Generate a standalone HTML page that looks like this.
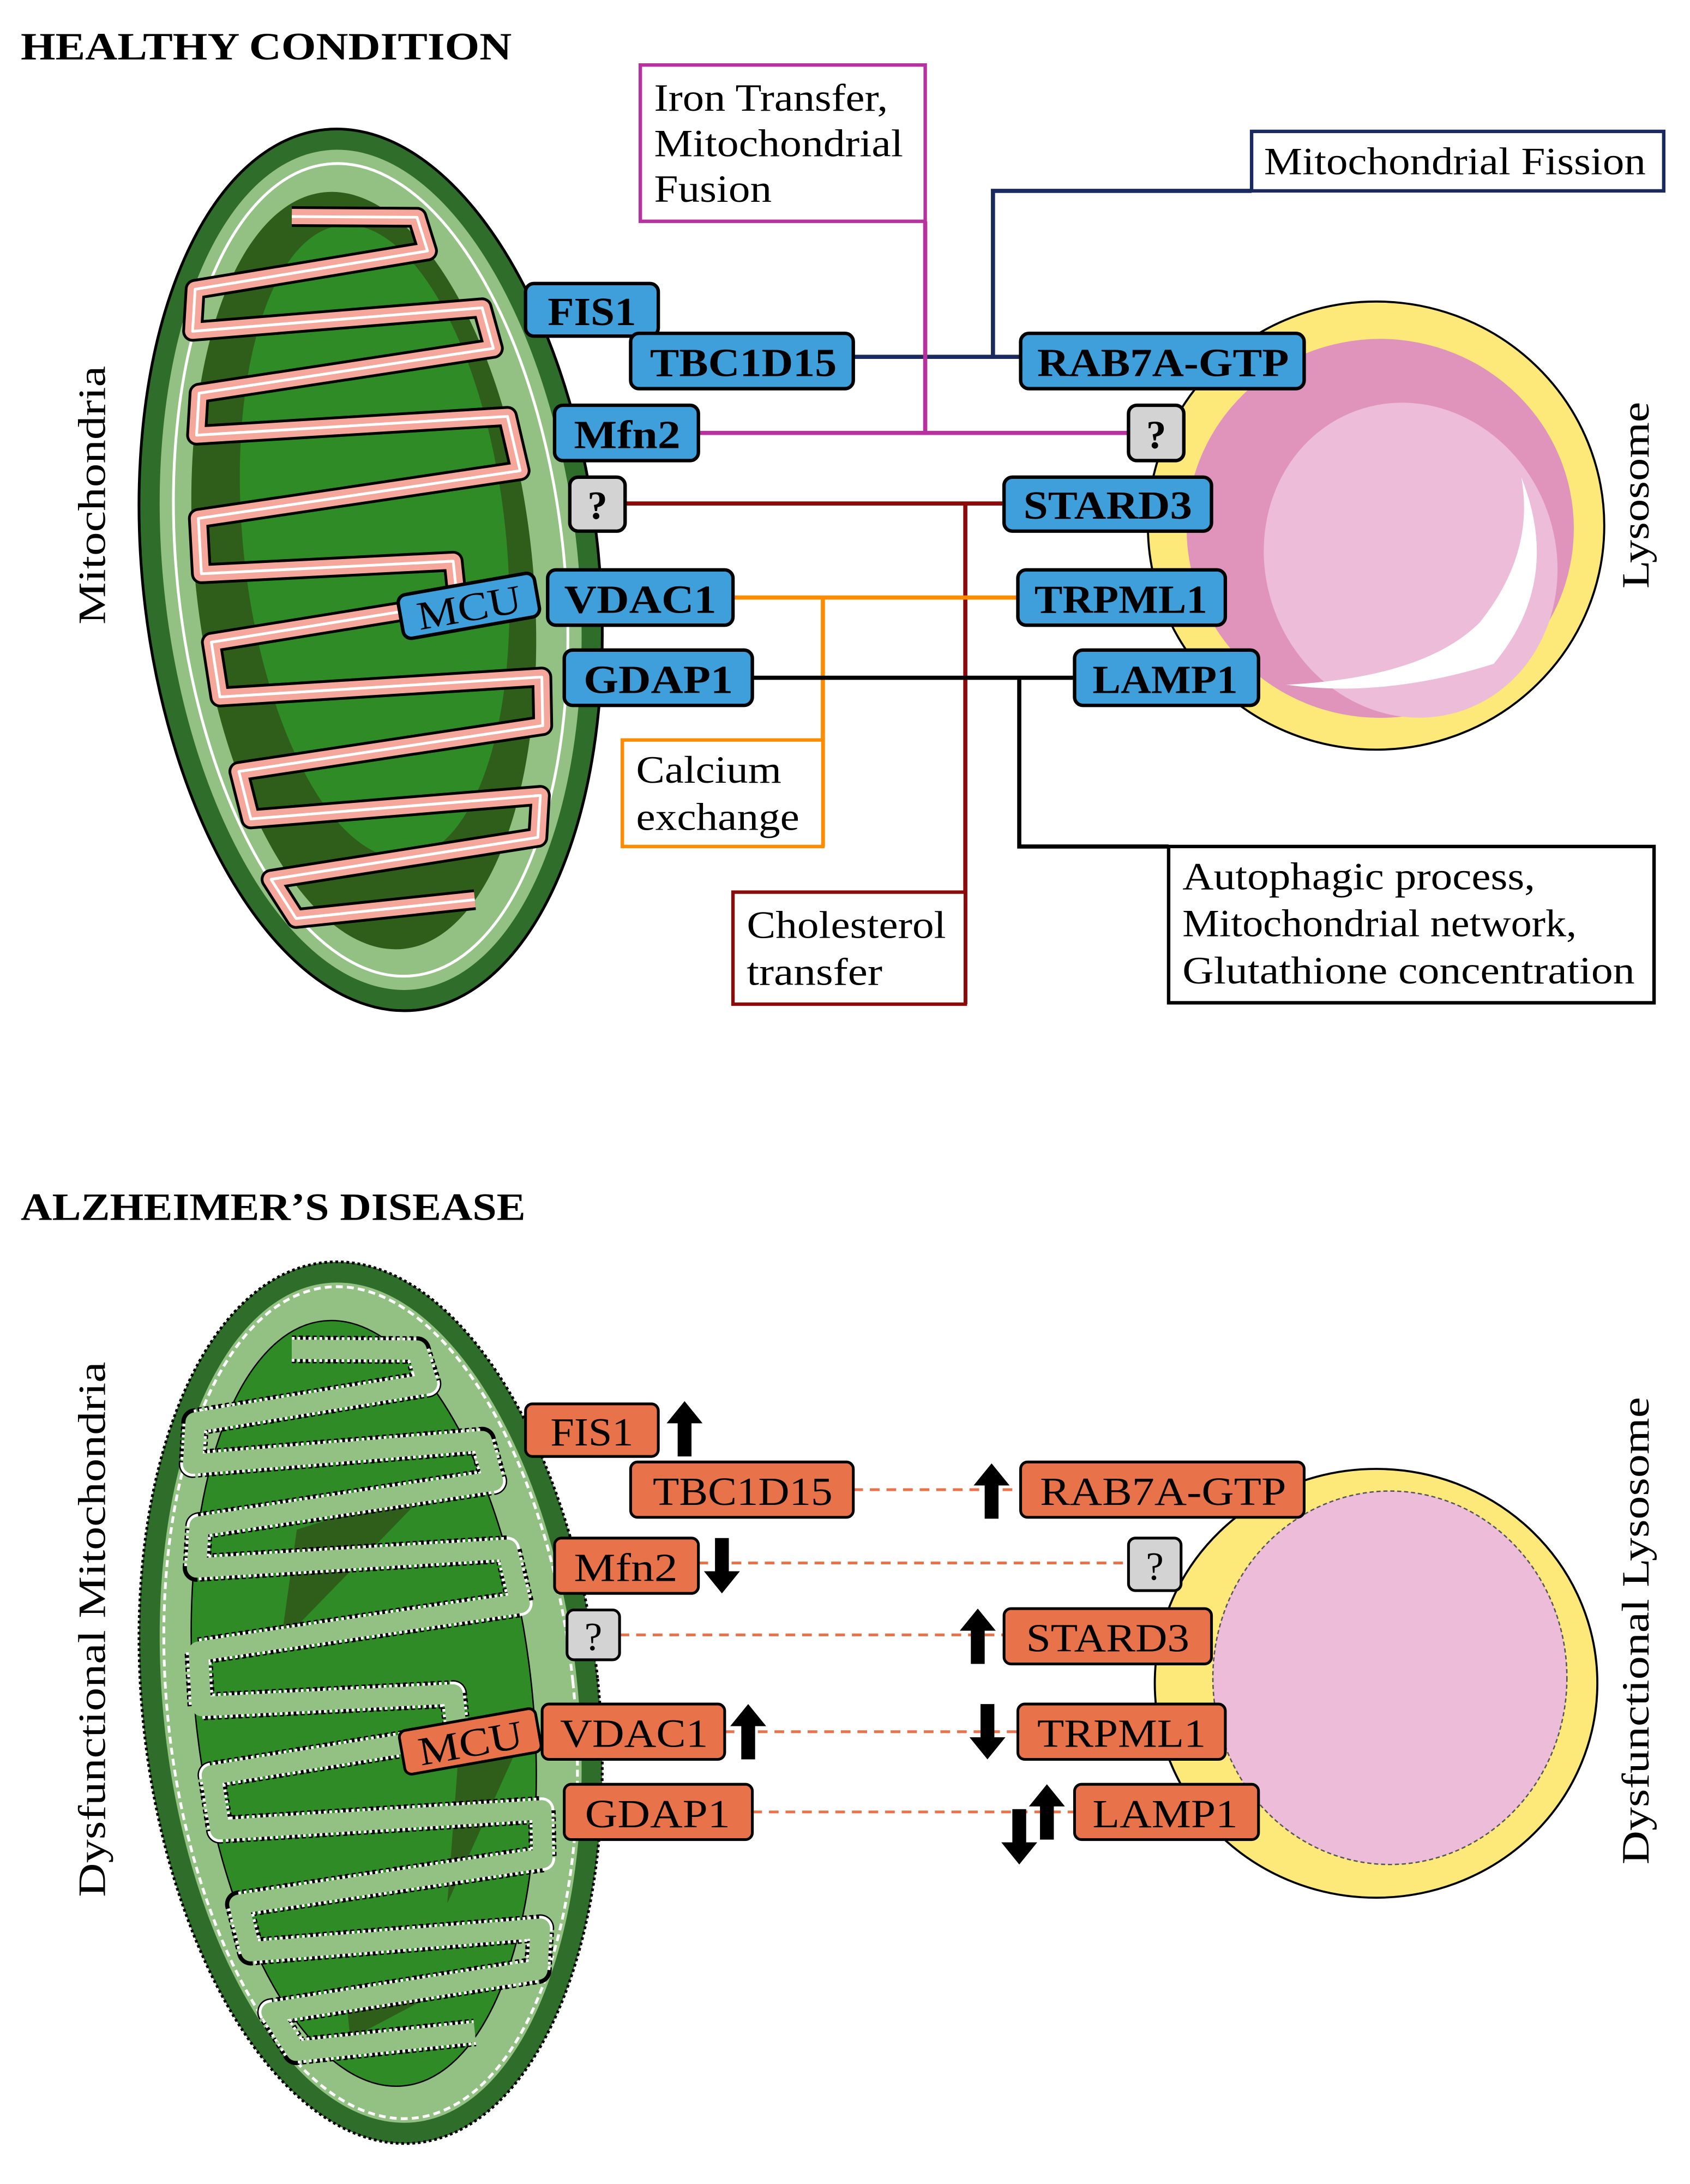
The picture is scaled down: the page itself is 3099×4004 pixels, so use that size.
<!DOCTYPE html>
<html><head><meta charset="utf-8"><style>
html,body{margin:0;padding:0;background:#fff;}
svg{display:block;}
text{font-family:"Liberation Serif",serif;}
.b{font-weight:bold;}
</style></head><body>
<svg width="3099" height="4004" viewBox="0 0 1222 1579" preserveAspectRatio="none" xmlns="http://www.w3.org/2000/svg">
<defs>
<g id="arrUp"><polygon points="0,-20 13,-4 5,-4 5,20 -5,20 -5,-4 -13,-4" fill="#000"/></g>
<g id="arrDn"><polygon points="0,20 13,4 5,4 5,-20 -5,-20 -5,4 -13,4" fill="#000"/></g>
</defs>

<!-- ===== HEALTHY ===== -->
<text x="15" y="43" font-size="28" class="b" textLength="355" lengthAdjust="spacingAndGlyphs">HEALTHY CONDITION</text>

<g transform="translate(268,412) rotate(-6)">
  <ellipse cx="0" cy="0" rx="165" ry="320" fill="#2f6e2a" stroke="#000" stroke-width="2"/>
  <ellipse cx="0" cy="0" rx="150" ry="305" fill="#93c083"/>
  <ellipse cx="0" cy="0" rx="140" ry="295" fill="none" stroke="#fff" stroke-width="2"/>
  <ellipse cx="-5" cy="0" rx="122" ry="275" fill="#2e5e1a"/>
  <ellipse cx="5" cy="-20" rx="95" ry="230" fill="#2e8b25"/>
  <path d="M-30,-260 L60,-250 L65,-225 L-105,-215 L-110,-185 L100,-180 L105,-150 L-110,-140 L-115,-110 L110,-100 L115,-60 L-120,-50 L-122,-10 L60,0 L60,30 L-120,40 L-118,80 L115,90 L112,125 L-110,135 L-105,170 L105,175 L100,205 L-95,215 L-80,245 L50,245" fill="none" stroke="#000" stroke-width="15" stroke-linejoin="round"/>
  <path d="M-30,-260 L60,-250 L65,-225 L-105,-215 L-110,-185 L100,-180 L105,-150 L-110,-140 L-115,-110 L110,-100 L115,-60 L-120,-50 L-122,-10 L60,0 L60,30 L-120,40 L-118,80 L115,90 L112,125 L-110,135 L-105,170 L105,175 L100,205 L-95,215 L-80,245 L50,245" fill="none" stroke="#f4a79a" stroke-width="11" stroke-linejoin="round"/>
  <path d="M-30,-260 L60,-250 L65,-225 L-105,-215 L-110,-185 L100,-180 L105,-150 L-110,-140 L-115,-110 L110,-100 L115,-60 L-120,-50 L-122,-10 L60,0 L60,30 L-120,40 L-118,80 L115,90 L112,125 L-110,135 L-105,170 L105,175 L100,205 L-95,215 L-80,245 L50,245" fill="none" stroke="#fff" stroke-width="2" stroke-linejoin="round"/>
</g>
<text transform="translate(76,358) rotate(-90)" font-size="28" text-anchor="middle" textLength="187" lengthAdjust="spacingAndGlyphs">Mitochondria</text>

<!-- lysosome top -->
<ellipse cx="995" cy="380" rx="165" ry="162" fill="#fde87a" stroke="#000" stroke-width="1.5"/>
<ellipse cx="998" cy="382" rx="140" ry="137" fill="#e094bb"/>
<ellipse cx="1020" cy="405" rx="105" ry="115" fill="#ecbcd9" transform="rotate(-20 1020 405)"/>
<path d="M1100,345 Q1130,420 1080,480 Q1000,505 930,495 Q1030,490 1070,450 Q1110,400 1100,345 Z" fill="#fff"/>
<text transform="translate(1192,358) rotate(-90)" font-size="28" text-anchor="middle" textLength="135" lengthAdjust="spacingAndGlyphs">Lysosome</text>

<!-- connectors top -->
<g fill="none" stroke-width="3">
  <path d="M617,258 H738 M718,258 V138 H905" stroke="#1a2a5e"/>
  <path d="M505,313 H816 M669,313 V160" stroke="#b8329f"/>
  <path d="M452,364 H726 M698,364 V726" stroke="#8b0a0a"/>
  <path d="M530,432 H736 M595,432 V612" stroke="#ff8c00"/>
  <path d="M544,490 H777 M737,490 V612 H845" stroke="#000"/>
</g>
<g fill="#fff" stroke-width="2.5">
  <rect x="463" y="47" width="206" height="113" stroke="#b8329f"/>
  <rect x="905" y="95" width="298" height="43" stroke="#1a2a5e"/>
  <rect x="450" y="535" width="145" height="77" stroke="#ff8c00"/>
  <rect x="530" y="645" width="168" height="81" stroke="#8b0a0a"/>
  <rect x="845" y="612" width="351" height="113" stroke="#000"/>
</g>
<g font-size="28" lengthAdjust="spacingAndGlyphs">
  <text x="473" y="80" textLength="169" lengthAdjust="spacingAndGlyphs">Iron Transfer,</text>
  <text x="473" y="113" textLength="180" lengthAdjust="spacingAndGlyphs">Mitochondrial</text>
  <text x="473" y="146" textLength="85" lengthAdjust="spacingAndGlyphs">Fusion</text>
  <text x="914" y="126" textLength="276" lengthAdjust="spacingAndGlyphs">Mitochondrial Fission</text>
  <text x="460" y="566" textLength="105" lengthAdjust="spacingAndGlyphs">Calcium</text>
  <text x="460" y="600" textLength="118" lengthAdjust="spacingAndGlyphs">exchange</text>
  <text x="540" y="678" textLength="144" lengthAdjust="spacingAndGlyphs">Cholesterol</text>
  <text x="540" y="712" textLength="98" lengthAdjust="spacingAndGlyphs">transfer</text>
  <text x="855" y="643" textLength="255" lengthAdjust="spacingAndGlyphs">Autophagic process,</text>
  <text x="855" y="677" textLength="285" lengthAdjust="spacingAndGlyphs">Mitochondrial network,</text>
  <text x="855" y="711" textLength="327" lengthAdjust="spacingAndGlyphs">Glutathione concentration</text>
</g>
<g fill="#3f9fdb" stroke="#000" stroke-width="2.5">
  <rect x="380" y="205" width="96" height="38" rx="6"/>
  <rect x="456" y="241" width="161" height="40" rx="6"/>
  <rect x="738" y="241" width="205" height="40" rx="6"/>
  <rect x="401" y="293" width="104" height="40" rx="6"/>
  <rect x="726" y="345" width="150" height="39" rx="6"/>
  <rect x="396" y="412" width="134" height="40" rx="6"/>
  <rect x="736" y="412" width="150" height="40" rx="6"/>
  <rect x="408" y="470" width="136" height="40" rx="6"/>
  <rect x="777" y="470" width="133" height="40" rx="6"/>
  <rect x="289" y="422" width="100" height="32" rx="6" transform="rotate(-10 339 438)"/>
</g>
<g fill="#d3d3d3" stroke="#000" stroke-width="2.5">
  <rect x="816" y="293" width="40" height="40" rx="6"/>
  <rect x="412" y="345" width="40" height="39" rx="6"/>
</g>
<g font-size="29" class="b">
  <text x="396" y="235" textLength="64" lengthAdjust="spacingAndGlyphs">FIS1</text>
  <text x="470" y="272" textLength="135" lengthAdjust="spacingAndGlyphs">TBC1D15</text>
  <text x="750" y="272" textLength="182" lengthAdjust="spacingAndGlyphs">RAB7A-GTP</text>
  <text x="415" y="324" textLength="77" lengthAdjust="spacingAndGlyphs">Mfn2</text>
  <text x="836" y="324" text-anchor="middle">?</text>
  <text x="432" y="375" text-anchor="middle">?</text>
  <text x="740" y="375" textLength="122" lengthAdjust="spacingAndGlyphs">STARD3</text>
  <text x="408" y="443" textLength="110" lengthAdjust="spacingAndGlyphs">VDAC1</text>
  <text x="748" y="443" textLength="125" lengthAdjust="spacingAndGlyphs">TRPML1</text>
  <text x="422" y="501" textLength="108" lengthAdjust="spacingAndGlyphs">GDAP1</text>
  <text x="790" y="501" textLength="105" lengthAdjust="spacingAndGlyphs">LAMP1</text>
</g>
<text x="301" y="449" font-size="29" textLength="76" lengthAdjust="spacingAndGlyphs" transform="rotate(-10 339 438)">MCU</text>

<!-- ===== ALZHEIMER ===== -->
<text x="15" y="882" font-size="28" class="b" textLength="365" lengthAdjust="spacingAndGlyphs">ALZHEIMER’S DISEASE</text>

<g transform="translate(268,1231) rotate(-6)">
  <ellipse cx="0" cy="0" rx="165" ry="320" fill="#2f6e2a" stroke="#000" stroke-width="2" stroke-dasharray="2 2"/>
  <ellipse cx="0" cy="0" rx="150" ry="305" fill="#93c083"/>
  <ellipse cx="0" cy="0" rx="147" ry="302" fill="none" stroke="#fff" stroke-width="2" stroke-dasharray="5 3"/>
  <ellipse cx="-5" cy="0" rx="122" ry="278" fill="#2e8b25" stroke="#000" stroke-width="1"/>
  <path d="M-40,-130 L60,-150 L-60,-50 Z M-40,220 L60,200 L-40,240 Z M60,40 L110,30 L40,150 Z" fill="#2e5e1a"/>
  <path d="M-30,-260 L60,-250 L65,-225 L-105,-215 L-110,-185 L100,-180 L105,-150 L-110,-140 L-115,-110 L110,-100 L115,-60 L-120,-50 L-122,-10 L60,0 L60,30 L-120,40 L-118,80 L115,90 L112,125 L-110,135 L-105,170 L105,175 L100,205 L-95,215 L-80,245 L50,245" fill="none" stroke="#000" stroke-width="20" stroke-linejoin="round" stroke-dasharray="3 2"/>
  <path d="M-30,-260 L60,-250 L65,-225 L-105,-215 L-110,-185 L100,-180 L105,-150 L-110,-140 L-115,-110 L110,-100 L115,-60 L-120,-50 L-122,-10 L60,0 L60,30 L-120,40 L-118,80 L115,90 L112,125 L-110,135 L-105,170 L105,175 L100,205 L-95,215 L-80,245 L50,245" fill="none" stroke="#fff" stroke-width="18" stroke-linejoin="round" stroke-dasharray="2 2"/>
  <path d="M-30,-260 L60,-250 L65,-225 L-105,-215 L-110,-185 L100,-180 L105,-150 L-110,-140 L-115,-110 L110,-100 L115,-60 L-120,-50 L-122,-10 L60,0 L60,30 L-120,40 L-118,80 L115,90 L112,125 L-110,135 L-105,170 L105,175 L100,205 L-95,215 L-80,245 L50,245" fill="none" stroke="#93c083" stroke-width="14" stroke-linejoin="round"/>
</g>
<text transform="translate(76,1178) rotate(-90)" font-size="28" text-anchor="middle" textLength="387" lengthAdjust="spacingAndGlyphs">Dysfunctional Mitochondria</text>

<ellipse cx="995" cy="1217" rx="160" ry="155" fill="#fde87a" stroke="#000" stroke-width="1.5"/>
<ellipse cx="1005" cy="1213" rx="128" ry="135" fill="#ecbcd9" stroke="#555" stroke-width="1" stroke-dasharray="3 2"/>
<text transform="translate(1192,1179) rotate(-90)" font-size="28" text-anchor="middle" textLength="338" lengthAdjust="spacingAndGlyphs">Dysfunctional Lysosome</text>

<g fill="none" stroke="#e8734a" stroke-width="2" stroke-dasharray="7 5">
  <path d="M617,1077 H738"/>
  <path d="M505,1130 H816"/>
  <path d="M448,1182 H726"/>
  <path d="M524,1252 H736"/>
  <path d="M544,1310 H777"/>
</g>
<g fill="#e8734a" stroke="#000" stroke-width="2">
  <rect x="380" y="1015" width="96" height="38" rx="5"/>
  <rect x="456" y="1057" width="161" height="40" rx="5"/>
  <rect x="738" y="1057" width="205" height="40" rx="5"/>
  <rect x="401" y="1112" width="104" height="40" rx="5"/>
  <rect x="726" y="1163" width="150" height="40" rx="5"/>
  <rect x="392" y="1232" width="132" height="40" rx="5"/>
  <rect x="736" y="1232" width="150" height="40" rx="5"/>
  <rect x="408" y="1290" width="136" height="40" rx="5"/>
  <rect x="777" y="1290" width="133" height="40" rx="5"/>
  <rect x="290" y="1243" width="100" height="32" rx="5" transform="rotate(-10 340 1259)"/>
</g>
<g fill="#d3d3d3" stroke="#000" stroke-width="2">
  <rect x="816" y="1112" width="38" height="38" rx="5"/>
  <rect x="410" y="1164" width="38" height="36" rx="5"/>
</g>
<g font-size="29">
  <text x="398" y="1045" textLength="60" lengthAdjust="spacingAndGlyphs">FIS1</text>
  <text x="472" y="1088" textLength="130" lengthAdjust="spacingAndGlyphs">TBC1D15</text>
  <text x="752" y="1088" textLength="178" lengthAdjust="spacingAndGlyphs">RAB7A-GTP</text>
  <text x="415" y="1143" textLength="75" lengthAdjust="spacingAndGlyphs">Mfn2</text>
  <text x="835" y="1142" text-anchor="middle">?</text>
  <text x="429" y="1193" text-anchor="middle">?</text>
  <text x="742" y="1194" textLength="118" lengthAdjust="spacingAndGlyphs">STARD3</text>
  <text x="405" y="1263" textLength="107" lengthAdjust="spacingAndGlyphs">VDAC1</text>
  <text x="750" y="1263" textLength="122" lengthAdjust="spacingAndGlyphs">TRPML1</text>
  <text x="423" y="1321" textLength="105" lengthAdjust="spacingAndGlyphs">GDAP1</text>
  <text x="790" y="1321" textLength="105" lengthAdjust="spacingAndGlyphs">LAMP1</text>
</g>
<text x="302" y="1270" font-size="29" textLength="76" lengthAdjust="spacingAndGlyphs" transform="rotate(-10 340 1259)">MCU</text>

<use href="#arrUp" x="495" y="1033"/>
<use href="#arrUp" x="717" y="1078"/>
<use href="#arrDn" x="522" y="1132"/>
<use href="#arrUp" x="707" y="1183"/>
<use href="#arrUp" x="541" y="1252"/>
<use href="#arrDn" x="714" y="1252"/>
<use href="#arrUp" x="757" y="1310"/>
<use href="#arrDn" x="737" y="1328"/>
</svg>
</body></html>
